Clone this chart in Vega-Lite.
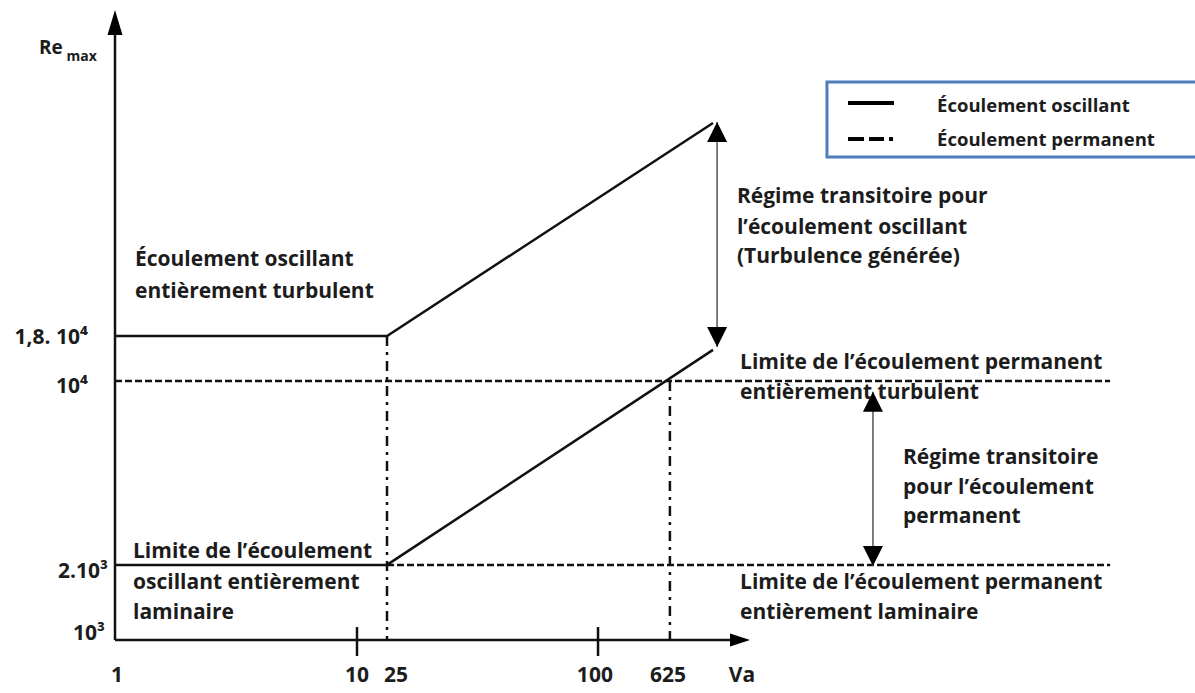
{
  "$schema": "https://vega.github.io/schema/vega-lite/v6.json",
  "width": 1080,
  "height": 630,
  "autosize": {"type": "none"},
  "padding": {"left": 115, "top": 10, "right": 0, "bottom": 53},
  "background": "white",
  "config": {"view": {"stroke": null}},
  "datasets": {
    "axes": [
      {"u": 0, "v": 0, "u2": 0, "v2": 2.36},
      {"u": 0, "v": 0, "u2": 2.6, "v2": 0}
    ],
    "ticks": [
      {"u": 1.0, "v": -0.062, "v2": 0.05},
      {"u": 1.996, "v": -0.062, "v2": 0.05}
    ],
    "solid": [
      {"seg": "turbulent", "ord": 1, "u": 0, "v": 1.174},
      {"seg": "turbulent", "ord": 2, "u": 1.124, "v": 1.174},
      {"seg": "turbulent", "ord": 3, "u": 2.471, "v": 1.996},
      {"seg": "laminaire", "ord": 1, "u": 0, "v": 0.29},
      {"seg": "laminaire", "ord": 2, "u": 1.124, "v": 0.29},
      {"seg": "laminaire", "ord": 3, "u": 2.471, "v": 1.12}
    ],
    "dashed": [
      {"seg": "turbulent", "ord": 1, "u": 0, "v": 1.0},
      {"seg": "turbulent", "ord": 2, "u": 4.112, "v": 1.0},
      {"seg": "laminaire", "ord": 1, "u": 1.124, "v": 0.29},
      {"seg": "laminaire", "ord": 2, "u": 4.112, "v": 0.29}
    ],
    "dashdot": [
      {"seg": "Va25", "ord": 1, "u": 1.124, "v": 1.174},
      {"seg": "Va25", "ord": 2, "u": 1.124, "v": 0},
      {"seg": "Va625", "ord": 1, "u": 2.293, "v": 1.0},
      {"seg": "Va625", "ord": 2, "u": 2.293, "v": 0}
    ],
    "spans": [
      {"u": 2.488, "v": 2.0, "v2": 1.131},
      {"u": 3.132, "v": 0.958, "v2": 0.286}
    ],
    "upTips": [
      {"u": 2.488, "v": 2.0},
      {"u": 3.132, "v": 0.958}
    ],
    "downTips": [
      {"u": 2.488, "v": 1.131},
      {"u": 3.132, "v": 0.286}
    ],
    "yTip": [{"u": 0, "v": 2.432}],
    "xTip": [{"u": 2.624, "v": 0}],
    "legendBox": [{"u": 2.942, "u2": 4.6, "v": 2.154, "v2": 1.865}],
    "legendSolid": [{"u": 3.029, "u2": 3.219, "v": 2.073}],
    "legendDashed": [{"u": 3.029, "u2": 3.23, "v": 1.934}],
    "notes": [
      {"t": "Écoulement oscillant", "u": 0.0826, "v": 1.467},
      {"t": "entièrement turbulent", "u": 0.0826, "v": 1.344},
      {"t": "Limite de l’écoulement", "u": 0.0744, "v": 0.34},
      {"t": "oscillant entièrement", "u": 0.0744, "v": 0.22},
      {"t": "laminaire", "u": 0.0744, "v": 0.104},
      {"t": "Régime transitoire pour", "u": 2.57, "v": 1.71},
      {"t": "l’écoulement oscillant", "u": 2.57, "v": 1.591},
      {"t": "(Turbulence générée)", "u": 2.57, "v": 1.479},
      {"t": "Limite de l’écoulement permanent", "u": 2.583, "v": 1.069},
      {"t": "entièrement turbulent", "u": 2.583, "v": 0.954},
      {"t": "Régime transitoire", "u": 3.256, "v": 0.703},
      {"t": "pour l’écoulement", "u": 3.256, "v": 0.587},
      {"t": "permanent", "u": 3.256, "v": 0.475},
      {"t": "Limite de l’écoulement permanent", "u": 2.583, "v": 0.22},
      {"t": "entièrement laminaire", "u": 2.583, "v": 0.104}
    ],
    "legendText": [
      {"t": "Écoulement oscillant", "u": 3.397, "v": 2.062},
      {"t": "Écoulement permanent", "u": 3.397, "v": 1.931}
    ],
    "yLabels": [
      {"t": "1,8. 10⁴", "u": -0.112, "v": 1.166},
      {"t": "10⁴", "u": -0.112, "v": 0.977},
      {"t": "2.10³", "u": -0.029, "v": 0.263},
      {"t": "10³", "u": -0.041, "v": 0.023}
    ],
    "xLabels": [
      {"t": "1", "u": 0.008, "v": -0.139},
      {"t": "10", "u": 1.0, "v": -0.139},
      {"t": "25", "u": 1.161, "v": -0.139},
      {"t": "100", "u": 1.983, "v": -0.139},
      {"t": "625", "u": 2.285, "v": -0.139},
      {"t": "Va", "u": 2.591, "v": -0.139}
    ],
    "reMain": [{"t": "Re", "u": -0.314, "v": 2.286}],
    "reSub": [{"t": "max", "u": -0.2, "v": 2.25}]
  },
  "layer": [
    {
      "data": {"name": "legendBox"},
      "mark": {"type": "rect", "fill": "white", "stroke": "#4f7fba", "strokeWidth": 3},
      "encoding": {
        "x": {"field": "u", "type": "quantitative", "scale": {"domain": [0, 4.4628], "nice": false, "zero": false}, "axis": null},
        "x2": {"field": "u2"},
        "y": {"field": "v", "type": "quantitative", "scale": {"domain": [0, 2.4324], "nice": false, "zero": false}, "axis": null},
        "y2": {"field": "v2"}
      }
    },
    {
      "data": {"name": "axes"},
      "mark": {"type": "rule", "color": "#111", "strokeWidth": 2.5},
      "encoding": {
        "x": {"field": "u", "type": "quantitative"},
        "x2": {"field": "u2"},
        "y": {"field": "v", "type": "quantitative"},
        "y2": {"field": "v2"}
      }
    },
    {
      "data": {"name": "ticks"},
      "mark": {"type": "rule", "color": "#111", "strokeWidth": 2.5},
      "encoding": {
        "x": {"field": "u", "type": "quantitative"},
        "y": {"field": "v", "type": "quantitative"},
        "y2": {"field": "v2"}
      }
    },
    {
      "data": {"name": "solid"},
      "mark": {"type": "line", "color": "#111", "strokeWidth": 2.5},
      "encoding": {
        "x": {"field": "u", "type": "quantitative"},
        "y": {"field": "v", "type": "quantitative"},
        "detail": {"field": "seg"},
        "order": {"field": "ord"}
      }
    },
    {
      "data": {"name": "dashed"},
      "mark": {"type": "line", "color": "#111", "strokeWidth": 2.5, "strokeDash": [7, 3]},
      "encoding": {
        "x": {"field": "u", "type": "quantitative"},
        "y": {"field": "v", "type": "quantitative"},
        "detail": {"field": "seg"},
        "order": {"field": "ord"}
      }
    },
    {
      "data": {"name": "dashdot"},
      "mark": {"type": "line", "color": "#111", "strokeWidth": 2.5, "strokeDash": [10, 6, 3, 6]},
      "encoding": {
        "x": {"field": "u", "type": "quantitative"},
        "y": {"field": "v", "type": "quantitative"},
        "detail": {"field": "seg"},
        "order": {"field": "ord"}
      }
    },
    {
      "data": {"name": "spans"},
      "mark": {"type": "rule", "color": "#555", "strokeWidth": 1.5},
      "encoding": {
        "x": {"field": "u", "type": "quantitative"},
        "y": {"field": "v", "type": "quantitative"},
        "y2": {"field": "v2"}
      }
    },
    {
      "data": {"name": "upTips"},
      "mark": {"type": "point", "shape": "M0,0L0.5,1L-0.5,1Z", "size": 1600, "filled": true, "color": "#000", "opacity": 1},
      "encoding": {
        "x": {"field": "u", "type": "quantitative"},
        "y": {"field": "v", "type": "quantitative"}
      }
    },
    {
      "data": {"name": "downTips"},
      "mark": {"type": "point", "shape": "M0,0L0.5,-1L-0.5,-1Z", "size": 1600, "filled": true, "color": "#000", "opacity": 1},
      "encoding": {
        "x": {"field": "u", "type": "quantitative"},
        "y": {"field": "v", "type": "quantitative"}
      }
    },
    {
      "data": {"name": "yTip"},
      "mark": {"type": "point", "shape": "M0,0L0.3,1L-0.3,1Z", "size": 2500, "filled": true, "color": "#000", "opacity": 1},
      "encoding": {
        "x": {"field": "u", "type": "quantitative"},
        "y": {"field": "v", "type": "quantitative"}
      }
    },
    {
      "data": {"name": "xTip"},
      "mark": {"type": "point", "shape": "M0,0L-1,0.33L-1,-0.33Z", "size": 1600, "filled": true, "color": "#000", "opacity": 1},
      "encoding": {
        "x": {"field": "u", "type": "quantitative"},
        "y": {"field": "v", "type": "quantitative"}
      }
    },
    {
      "data": {"name": "legendSolid"},
      "mark": {"type": "rule", "color": "#000", "strokeWidth": 4},
      "encoding": {
        "x": {"field": "u", "type": "quantitative"},
        "x2": {"field": "u2"},
        "y": {"field": "v", "type": "quantitative"}
      }
    },
    {
      "data": {"name": "legendDashed"},
      "mark": {"type": "rule", "color": "#000", "strokeWidth": 4, "strokeDash": [16, 5, 15, 5, 4, 60]},
      "encoding": {
        "x": {"field": "u", "type": "quantitative"},
        "x2": {"field": "u2"},
        "y": {"field": "v", "type": "quantitative"}
      }
    },
    {
      "data": {"name": "notes"},
      "mark": {"type": "text", "align": "left", "baseline": "middle", "font": "Open Sans", "fontWeight": "bold", "fontSize": 21, "color": "#1c1c1c"},
      "encoding": {
        "x": {"field": "u", "type": "quantitative"},
        "y": {"field": "v", "type": "quantitative"},
        "text": {"field": "t"}
      }
    },
    {
      "data": {"name": "legendText"},
      "mark": {"type": "text", "align": "left", "baseline": "middle", "font": "Open Sans", "fontWeight": "bold", "fontSize": 18.5, "color": "#1c1c1c"},
      "encoding": {
        "x": {"field": "u", "type": "quantitative"},
        "y": {"field": "v", "type": "quantitative"},
        "text": {"field": "t"}
      }
    },
    {
      "data": {"name": "yLabels"},
      "mark": {"type": "text", "align": "right", "baseline": "middle", "font": "Open Sans", "fontWeight": "bold", "fontSize": 21, "color": "#1c1c1c"},
      "encoding": {
        "x": {"field": "u", "type": "quantitative"},
        "y": {"field": "v", "type": "quantitative"},
        "text": {"field": "t"}
      }
    },
    {
      "data": {"name": "xLabels"},
      "mark": {"type": "text", "align": "center", "baseline": "middle", "font": "Open Sans", "fontWeight": "bold", "fontSize": 21, "color": "#1c1c1c"},
      "encoding": {
        "x": {"field": "u", "type": "quantitative"},
        "y": {"field": "v", "type": "quantitative"},
        "text": {"field": "t"}
      }
    },
    {
      "data": {"name": "reMain"},
      "mark": {"type": "text", "align": "left", "baseline": "middle", "font": "Open Sans", "fontWeight": "bold", "fontSize": 19, "color": "#1c1c1c"},
      "encoding": {
        "x": {"field": "u", "type": "quantitative"},
        "y": {"field": "v", "type": "quantitative"},
        "text": {"field": "t"}
      }
    },
    {
      "data": {"name": "reSub"},
      "mark": {"type": "text", "align": "left", "baseline": "middle", "font": "Open Sans", "fontWeight": "bold", "fontSize": 14, "color": "#1c1c1c"},
      "encoding": {
        "x": {"field": "u", "type": "quantitative"},
        "y": {"field": "v", "type": "quantitative"},
        "text": {"field": "t"}
      }
    }
  ]
}
